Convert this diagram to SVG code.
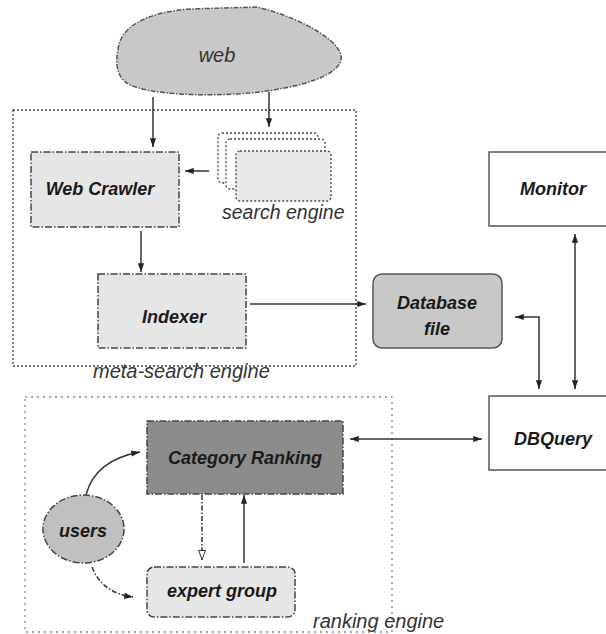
<svg xmlns="http://www.w3.org/2000/svg" width="606" height="634" viewBox="0 0 606 634">
<style>
text{font-family:"Liberation Sans",Arial,sans-serif;font-style:italic;fill:#1a1a1a}
.b{font-weight:bold;font-size:18px;text-anchor:middle}
.lbl{font-size:20px;fill:#333}
.dd{stroke:#444;stroke-width:1.5;stroke-dasharray:7 2 1.5 2}
.dot{fill:none;stroke:#444;stroke-width:1.3;stroke-dasharray:2 2}
.solid{stroke:#555;stroke-width:1.5}
.c{fill:none;stroke:#333;stroke-width:1.5}
</style>
<defs>
<marker id="ah" viewBox="0 0 10 8" refX="10" refY="4" markerWidth="10" markerHeight="7" markerUnits="userSpaceOnUse" orient="auto-start-reverse">
<path d="M0,0.5 L10,4 L0,7.5 z" fill="#222"/>
</marker>
<marker id="oh" viewBox="0 0 10 8" refX="10" refY="4" markerWidth="12" markerHeight="8" markerUnits="userSpaceOnUse" orient="auto">
<path d="M0.5,0.5 L9.5,4 L0.5,7.5 z" fill="#fff" stroke="#333" stroke-width="1"/>
</marker>
</defs>
<rect width="606" height="634" fill="#fff"/>

<g id="meta-search-engine">
<rect x="13" y="110" width="343" height="256" class="dot"/>
<text x="93" y="378" class="lbl">meta-search engine</text>
</g>
<g id="ranking-engine">
<rect x="25" y="397" width="367" height="235" fill="none" stroke="#888" stroke-width="1.3" stroke-dasharray="2 4"/>
<text x="313" y="628" class="lbl">ranking engine</text>
</g>

<g id="web">
<path d="M118,50 C120,25 150,12 190,9 L257,7 C290,15 335,35 341,55 C345,75 300,88 250,93 C200,97 150,94 130,85 C117,78 115,65 118,50 Z" fill="#c8c8c8" stroke="#555" stroke-width="1.5" stroke-dasharray="5 1.5 1.5 1.5"/>
<text x="217" y="62" class="lbl" text-anchor="middle" font-size="21">web</text>
</g>

<g id="search-engine">
<rect x="218" y="133" width="100" height="50" rx="4" fill="#fff" class="dot" style="fill:#fff"/>
<rect x="226" y="139" width="99" height="50" rx="4" class="dot" style="fill:#fff"/>
<rect x="236" y="151" width="95" height="50" rx="4" class="dot" style="fill:#e8e8e8"/>
<text x="222" y="219" class="lbl" font-size="19.5" style="font-size:19.5px">search engine</text>
</g>

<g id="web-crawler">
<rect x="31" y="152" width="148" height="75" fill="#e6e6e6" class="dd"/>
<text x="100" y="195" class="b">Web Crawler</text>
</g>

<g id="indexer">
<rect x="98" y="274" width="148" height="74" fill="#e6e6e6" class="dd"/>
<text x="174" y="323" class="b">Indexer</text>
</g>

<g id="database-file">
<rect x="373" y="274" width="129" height="74" rx="9" fill="#c8c8c8" class="solid"/>
<text x="437" y="309" class="b">Database</text>
<text x="437" y="335" class="b">file</text>
</g>

<g id="monitor">
<rect x="489" y="152" width="122" height="74" fill="#fff" class="solid"/>
<text x="553" y="195" class="b">Monitor</text>
</g>

<g id="dbquery">
<rect x="489" y="396" width="122" height="74" fill="#fff" class="solid"/>
<text x="553" y="445" class="b">DBQuery</text>
</g>

<g id="category-ranking">
<rect x="147" y="421" width="196" height="73" fill="#8c8c8c" class="dd"/>
<text x="245" y="464" class="b">Category Ranking</text>
</g>

<g id="users">
<ellipse cx="83.5" cy="529" rx="40.5" ry="34" fill="#c0c0c0" class="dd"/>
<text x="83" y="537" class="b">users</text>
</g>

<g id="expert-group">
<rect x="147" y="567" width="148" height="50" rx="7" fill="#e6e6e6" class="dd"/>
<text x="222" y="597" class="b">expert group</text>
</g>

<g id="connectors">
<line x1="153" y1="97" x2="153" y2="147" class="c" marker-end="url(#ah)"/>
<line x1="269" y1="92" x2="269" y2="127" class="c" marker-end="url(#ah)"/>
<line x1="209" y1="171" x2="185" y2="171" class="c" marker-end="url(#ah)"/>
<line x1="141" y1="231" x2="141" y2="272" class="c" marker-end="url(#ah)"/>
<line x1="250" y1="304" x2="366" y2="304" class="c" marker-end="url(#ah)"/>
<path d="M515,317 H539 V389" class="c" marker-start="url(#ah)" marker-end="url(#ah)"/>
<line x1="575" y1="234" x2="575" y2="389" class="c" marker-start="url(#ah)" marker-end="url(#ah)"/>
<line x1="350" y1="439" x2="482" y2="439" class="c" marker-start="url(#ah)" marker-end="url(#ah)"/>
<path d="M86,495 Q95,460 140,452" class="c" marker-end="url(#ah)"/>
<path d="M92,567 Q102,593 133,597" class="c" stroke-dasharray="5 2 1.5 2" marker-end="url(#ah)"/>
<line x1="202" y1="495" x2="202" y2="560" class="c" stroke-dasharray="5 2 1.5 2" marker-end="url(#oh)"/>
<line x1="244" y1="563" x2="244" y2="495" class="c" marker-end="url(#ah)"/>
</g>
</svg>
